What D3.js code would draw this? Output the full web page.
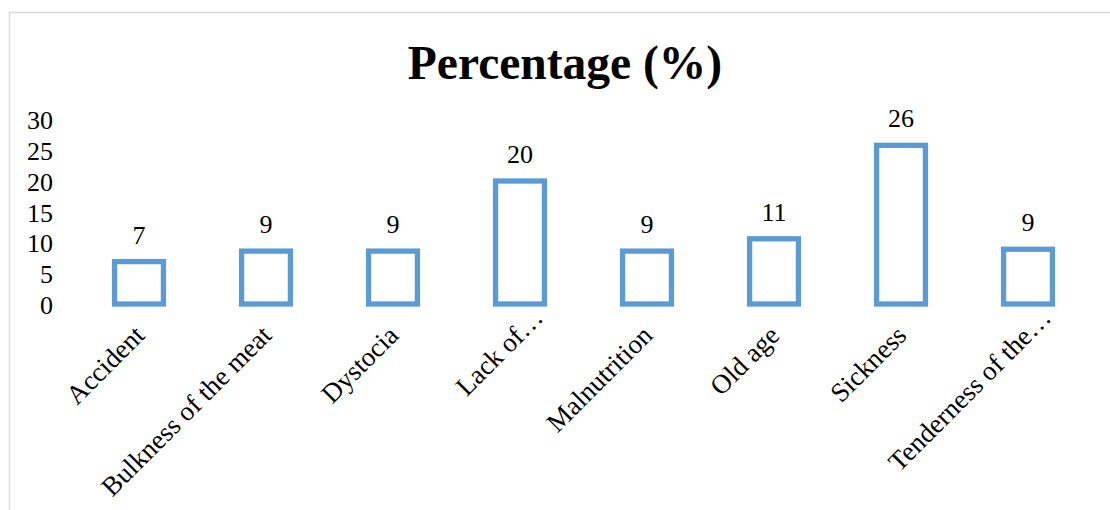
<!DOCTYPE html>
<html>
<head>
<meta charset="utf-8">
<script src="https://cdn.jsdelivr.net/npm/d3@7"></script>
<style>
  body { margin: 0; background: #fff; }
  text { font-family: "Liberation Serif", "Times New Roman", serif; fill: #000; }
</style>
</head>
<body>
<div id="chart"></div>
<script>
// data
const categories = ["Accident", "Bulkness of the meat", "Dystocia", "Lack of\u2026",
  "Malnutrition", "Old age", "Sickness", "Tenderness of the\u2026"];
const percentages = [6.9, 8.6, 8.6, 20.0, 8.6, 10.6, 25.8, 8.9];
const yTicks = [0, 5, 10, 15, 20, 25, 30];
const chartTitle = "Percentage (%)";

const width = 1110, height = 510;
const barColor = "#5B9BD5";

const svg = d3.select("#chart").append("svg")
  .attr("width", width)
  .attr("height", height);

// outer chart border (runs off the right and bottom edges)
svg.append("rect")
  .attr("x", 9.5).attr("y", 12.5)
  .attr("width", 1120).attr("height", 520)
  .attr("fill", "none")
  .attr("stroke", "#d9d9d9")
  .attr("stroke-width", 1.5);

svg.append("text")
  .attr("x", 565).attr("y", 79)
  .attr("text-anchor", "middle")
  .style("font-size", "47.5px")
  .style("font-weight", "bold")
  .text(chartTitle);

const x = d3.scaleBand()
  .domain(categories)
  .range([75.5, 1091.5])
  .paddingInner(160 / 260)
  .paddingOuter(80 / 260);

const y = d3.scaleLinear()
  .domain([0, 30])
  .range([304, 119.5]);

// y axis: labels only, no line or ticks
const yAxis = svg.append("g")
  .attr("transform", "translate(53,0)")
  .call(d3.axisLeft(y).tickValues(yTicks).tickSize(0).tickPadding(0));
yAxis.select(".domain").remove();
yAxis.selectAll("text")
  .attr("font-family", null)
  .style("font-size", "26px")
  .attr("dy", "0.36em");

// hollow bars
svg.append("g").selectAll("rect")
  .data(percentages)
  .join("rect")
  .attr("x", (d, i) => x(categories[i]))
  .attr("y", d => y(d))
  .attr("width", x.bandwidth())
  .attr("height", d => y(0) - y(d))
  .attr("fill", "none")
  .attr("stroke", barColor)
  .attr("stroke-width", 5.3);

// value labels
svg.append("g").selectAll("text")
  .data(percentages)
  .join("text")
  .attr("x", (d, i) => x(categories[i]) + x.bandwidth() / 2)
  .attr("y", d => y(d) - 18)
  .attr("text-anchor", "middle")
  .style("font-size", "26px")
  .text(d => d3.format(".0f")(d));

// category labels, rotated -45deg; truncated ones sit a bit further along
svg.append("g").selectAll("text")
  .data(categories)
  .join("text")
  .attr("text-anchor", "end")
  .attr("transform", d => {
    const cx = x(d) + x.bandwidth() / 2;
    return `translate(${cx + 7},${337}) rotate(-45)`;
  })
  .attr("dx", d => d.endsWith("\u2026") ? 25 : 0)
  .style("font-size", "27px")
  .text(d => d);
</script>
</body>
</html>
